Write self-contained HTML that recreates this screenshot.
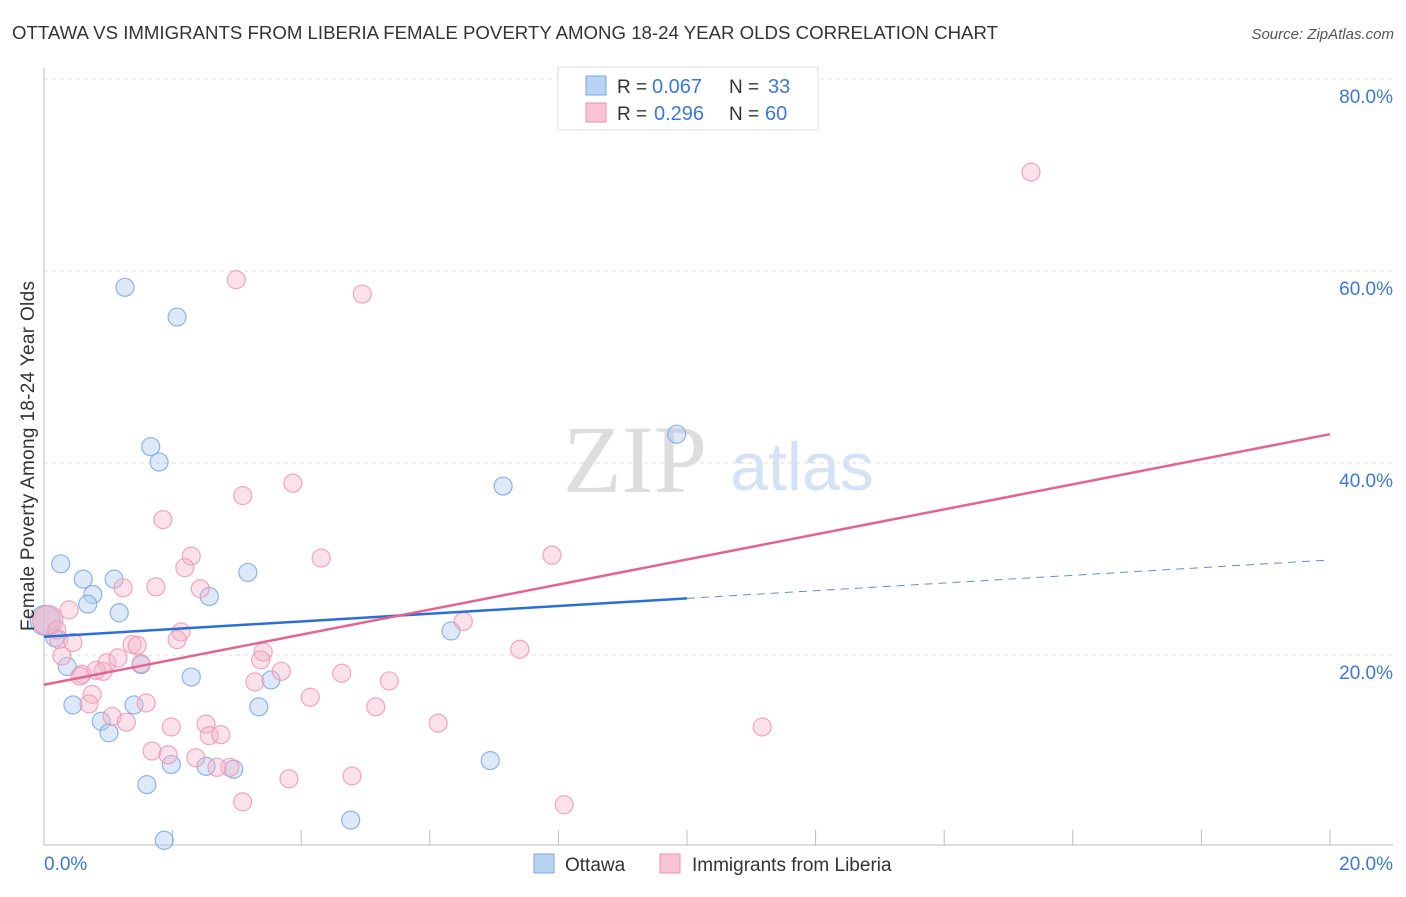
<!DOCTYPE html>
<html><head><meta charset="utf-8"><style>
body{margin:0;background:#fff;font-family:"Liberation Sans",sans-serif}
</style></head><body>
<svg id="c" width="1406" height="892" xmlns="http://www.w3.org/2000/svg">
<text x="12" y="39" font-size="18" fill="#333" textLength="986" lengthAdjust="spacingAndGlyphs">OTTAWA VS IMMIGRANTS FROM LIBERIA FEMALE POVERTY AMONG 18-24 YEAR OLDS CORRELATION CHART</text>
<text x="1394" y="39" font-size="15" fill="#555" font-style="italic" text-anchor="end">Source: ZipAtlas.com</text>
<text x="635" y="492" font-size="96" fill="#ddd" font-family="Liberation Serif,serif" text-anchor="middle">ZIP</text>
<text x="802" y="490" font-size="68" fill="#d4e2f5" text-anchor="middle">atlas</text>
<g id="grid"></g><g id="pts"></g><g id="lines"></g>
<text transform="translate(34,456) rotate(-90)" font-size="19" fill="#333" text-anchor="middle" textLength="350">Female Poverty Among 18-24 Year Olds</text>
<g>
<rect x="558" y="67" width="260" height="63" fill="#fff" stroke="#ddd"/>
<rect x="586" y="76" width="20" height="19" fill="#b9d3f3" stroke="#7aa5e0"/>
<rect x="586" y="103" width="20" height="19" fill="#f9c5d5" stroke="#ec90ad"/>
<text x="617" y="93" font-size="19" fill="#333">R =</text><text x="652" y="93" font-size="20" fill="#3a78d8">0.067</text>
<text x="729" y="93" font-size="19" fill="#333">N =</text><text x="768" y="93" font-size="20" fill="#3a78d8">33</text>
<text x="617" y="120" font-size="19" fill="#333">R =</text><text x="654" y="120" font-size="20" fill="#3a78d8">0.296</text>
<text x="729" y="120" font-size="19" fill="#333">N =</text><text x="765" y="120" font-size="20" fill="#3a78d8">60</text>
</g>
<g>
<rect x="534" y="854" width="20" height="19" fill="#b9d3f3" stroke="#7aa5e0"/>
<text x="565" y="871" font-size="19" fill="#333">Ottawa</text>
<rect x="660" y="854" width="20" height="19" fill="#f9c5d5" stroke="#ec90ad"/>
<text x="692" y="871" font-size="19" fill="#333">Immigrants from Liberia</text>
</g>
</svg>
<script>
const xTicks=[0,20];
const yTicks=[20,40,60,80];
const ottX=[1.26,2.07,1.66,1.79,9.84,7.14,0.26,0.61,1.09,3.17,0.76,0.68,2.57,1.17,0.02,0.17,6.33,0.36,1.51,2.29,3.53,0.45,1.40,3.34,0.89,1.01,1.98,2.52,2.95,1.60,6.94,4.77,1.87];
const ottY=[58.3,55.2,41.7,40.1,43.0,37.6,29.5,27.9,27.9,28.6,26.3,25.3,26.1,24.4,23.6,21.8,22.5,18.8,19.0,17.7,17.4,14.8,14.8,14.6,13.1,11.9,8.6,8.4,8.1,6.5,9.0,2.8,0.7];
const libX=[15.35,2.99,4.95,3.87,3.09,1.85,4.31,7.90,2.29,2.19,1.74,1.23,2.43,0.39,0.06,0.20,0.23,0.45,2.13,1.37,1.45,2.07,6.52,7.40,3.41,3.37,0.28,0.98,1.15,0.81,0.92,0.59,1.51,3.69,4.63,5.37,3.28,0.75,4.14,0.70,1.59,5.16,1.06,1.28,2.52,1.98,6.13,11.17,1.68,1.93,2.57,2.75,2.36,2.89,2.69,3.81,4.79,3.09,8.09,0.56];
const libY=[70.3,59.1,57.6,37.9,36.6,34.1,30.1,30.4,30.3,29.1,27.1,27.0,26.9,24.7,23.6,22.6,21.6,21.3,22.4,21.1,21.0,21.6,23.5,20.6,20.3,19.5,19.9,19.2,19.7,18.4,18.3,18.0,19.1,18.3,18.1,17.3,17.2,15.9,15.6,14.9,15.0,14.6,13.6,13.0,12.8,12.5,12.9,12.5,10.0,9.6,11.6,11.7,9.3,8.3,8.3,7.1,7.4,4.7,4.4,17.8];
const ottLine=[21.9,29.9]; const ottSolidEnd=10.0;
const libLine=[16.9,43.0];
const NS="http://www.w3.org/2000/svg";
const X=v=>44+v*64.3, Y=v=>847-v*9.6;
function mk(tag,attrs,parent){const e=document.createElementNS(NS,tag);for(const k in attrs)e.setAttribute(k,attrs[k]);document.getElementById(parent).appendChild(e);return e;}
yTicks.forEach(t=>{
 const l=mk('line',{x1:44,x2:1393,y1:Y(t),y2:Y(t),stroke:'#ddd','stroke-dasharray':'4,4'},'grid');
 
 
 const tx=mk('text',{x:1393,y:Y(t)+24,'font-size':19,fill:'#3a78d8','text-anchor':'end'},'grid');tx.textContent=t.toFixed(1)+'%';
 
 
});
mk('line',{x1:44,x2:44,y1:68,y2:845,stroke:'#bbb'},'grid');
mk('line',{x1:44,x2:1393,y1:845,y2:845,stroke:'#bbb'},'grid');
for(let i=0;i<=10;i++){mk('line',{x1:X(i*2),x2:X(i*2),y1:830,y2:845,stroke:'#bbb'},'grid');}
xTicks.forEach((t,i)=>{
 const tx=mk('text',{x:i?1393:44,y:870,'font-size':19,fill:'#3a78d8','text-anchor':i?'end':'start'},'grid');tx.textContent=t.toFixed(1)+'%';
 
 
});
function dots(xs,ys,fill,stroke,name){xs.forEach((x,i)=>{
 const big=x<0.1;
 const c=mk('circle',{cx:X(x),cy:Y(ys[i]),r:big?15:9,fill:fill,'fill-opacity':big?0.6:0.4,stroke:stroke,'stroke-opacity':0.85,'stroke-width':1.2},'pts');
 
 
});}
dots(ottX,ottY,'#a9c8f0','#7aa8e4','ottawa-point');
dots(libX,libY,'#f5b3c8','#ee98b3','liberia-point');
const sl=(a,b,x)=>a+(b-a)*x/20;
let l=mk('line',{x1:X(0),y1:Y(ottLine[0]),x2:X(ottSolidEnd),y2:Y(sl(ottLine[0],ottLine[1],ottSolidEnd)),stroke:'#2a6fd6','stroke-width':2.5},'lines');


l=mk('line',{x1:X(ottSolidEnd),y1:Y(sl(ottLine[0],ottLine[1],ottSolidEnd)),x2:X(20),y2:Y(ottLine[1]),stroke:'#5a8fdc','stroke-width':1,'stroke-dasharray':'8,6'},'lines');


l=mk('line',{x1:X(0),y1:Y(libLine[0]),x2:X(20),y2:Y(libLine[1]),stroke:'#e5648f','stroke-width':2.5},'lines');


</script>
</body></html>
